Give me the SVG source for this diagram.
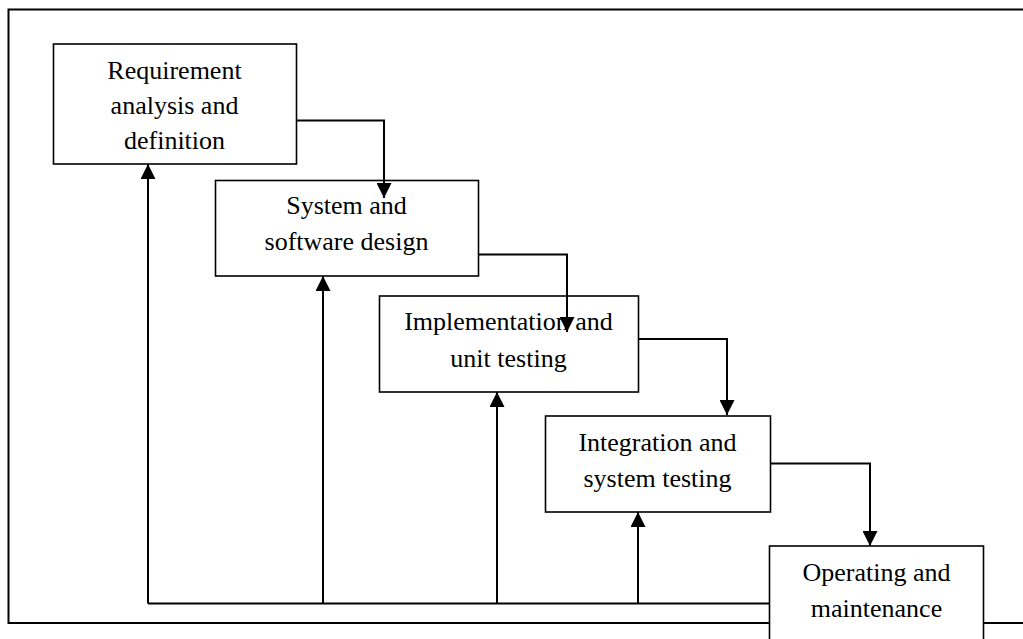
<svg xmlns="http://www.w3.org/2000/svg" width="1023" height="639" viewBox="0 0 1023 639">
<style>
.box{fill:#fff;stroke:#000;stroke-width:1.6}
.t{font-family:"Liberation Serif","Times New Roman",serif;font-size:26px;fill:#000;text-anchor:middle}
.c{fill:none;stroke:#000;stroke-width:2}
.f{fill:none;stroke:#000;stroke-width:2}
</style>
<defs>
<marker id="ah" markerWidth="15" markerHeight="15" viewBox="0 0 15 15" refX="15" refY="7.5" orient="auto" markerUnits="userSpaceOnUse">
<path d="M0,0 L15,7.5 L0,15 Z" fill="#000"/>
</marker>
</defs>
<rect width="1023" height="639" fill="#fff"/>
<path class="f" d="M1023,9.5 H8.5 V623 H1023"/>
<g id="connectors">
<path class="c" d="M769,603.5 H148"/>
<path class="c" d="M148,603.5 V164" marker-end="url(#ah)"/>
<path class="c" d="M323,603.5 V276" marker-end="url(#ah)"/>
<path class="c" d="M497,603.5 V392" marker-end="url(#ah)"/>
<path class="c" d="M638,603.5 V512" marker-end="url(#ah)"/>
</g>
<g id="n1"><rect class="box" x="53.5" y="44" width="243" height="120"/>
<text class="t" x="174.5" y="79">Requirement</text><text class="t" x="174.5" y="114">analysis and</text><text class="t" x="174.5" y="149">definition</text></g>
<g id="n2"><rect class="box" x="215.5" y="180.5" width="263" height="95.5"/>
<text class="t" x="346.5" y="214">System and</text><text class="t" x="346.5" y="250">software design</text></g>
<g id="n3"><rect class="box" x="379.5" y="296" width="259" height="96"/>
<text class="t" x="508.5" y="330">Implementation and</text><text class="t" x="508.5" y="367">unit testing</text></g>
<g id="n4"><rect class="box" x="545.5" y="416" width="225" height="96"/>
<text class="t" x="657.5" y="451">Integration and</text><text class="t" x="657.5" y="487">system testing</text></g>
<g id="n5"><rect class="box" x="769.5" y="546" width="214" height="110"/>
<text class="t" x="876.5" y="581">Operating and</text><text class="t" x="876.5" y="617">maintenance</text></g>
<g id="connectors-down">
<path class="c" d="M296.5,120.5 H384 V198" marker-end="url(#ah)"/>
<path class="c" d="M478.5,254.5 H567 V332" marker-end="url(#ah)"/>
<path class="c" d="M638.5,339 H727 V415" marker-end="url(#ah)"/>
<path class="c" d="M770.5,463.5 H870 V546" marker-end="url(#ah)"/>
</g>
</svg>
